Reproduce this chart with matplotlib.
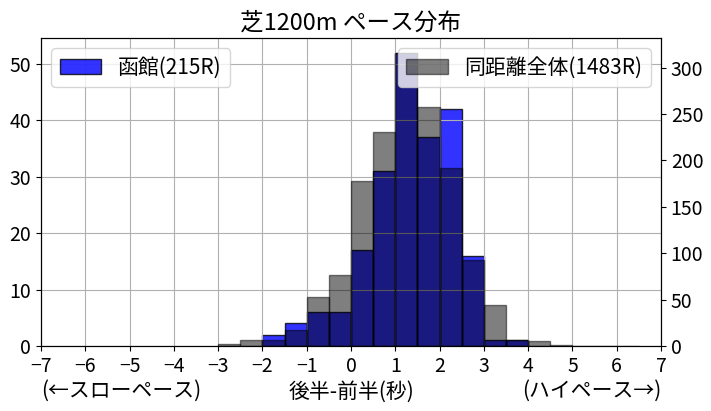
import numpy as np
import matplotlib
matplotlib.use('Agg')
import matplotlib.pyplot as plt

plt.rcParams['font.family'] = ['Noto Sans CJK JP', 'DejaVu Sans']

# bin left edges (0.5 sec bins) and counts
local_edges = [-2.0, -1.5, -1.0, -0.5, 0.0, 0.5, 1.0, 1.5, 2.0, 2.5, 3.0, 3.5]
local_counts = [2, 4, 6, 6, 17, 31, 52, 37, 42, 16, 1, 1]

all_edges = [-3.0, -2.5, -2.0, -1.5, -1.0, -0.5, 0.0, 0.5, 1.0, 1.5, 2.0, 2.5,
             3.0, 3.5, 4.0, 4.5, 5.0, 5.5, 6.0]
all_counts = [2, 6, 6, 17, 53, 76, 178, 230, 316, 258, 192, 93,
              44, 6, 5, 1, 0, 0, 0]

local_label = '函館(215R)'
all_label = '同距離全体(1483R)'
bin_w = 0.5

fig = plt.figure(figsize=(7.11, 4.11), dpi=100)
ax = fig.add_axes([41 / 711, 1 - 346 / 411, 620 / 711, 308 / 411])

ax.bar(local_edges, local_counts, width=bin_w, align='edge', color='blue',
       alpha=0.8, edgecolor='black', linewidth=1, label=local_label)
ax.set_xlim(-7, 7)
ax.set_xticks(np.arange(-7, 8, 1))
ax.grid(True)
ax.tick_params(labelsize=14)
ax.legend(loc='upper left', fontsize=15)

ax2 = ax.twinx()
ax2.bar(all_edges, all_counts, width=bin_w, align='edge', color='black',
        alpha=0.5, edgecolor='black', linewidth=1, label=all_label)
ax2.tick_params(labelsize=14)
ax2.legend(loc='upper right', fontsize=15)

ax.set_title('芝1200m ペース分布', fontsize=17)
ax.set_xlabel('後半-前半(秒)', fontsize=15, labelpad=3)
ax.text(0, -0.11, '(←スローペース)', transform=ax.transAxes, ha='left',
        va='top', fontsize=15)
ax.text(1, -0.11, '(ハイペース→)', transform=ax.transAxes, ha='right',
        va='top', fontsize=15)

fig.savefig('out.png', dpi=100)
